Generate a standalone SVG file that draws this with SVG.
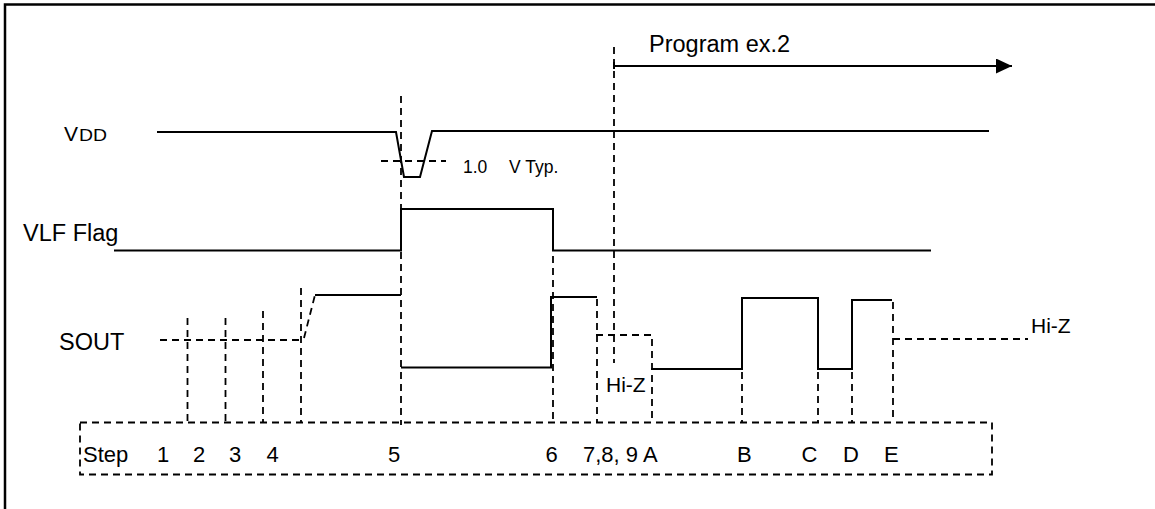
<svg xmlns="http://www.w3.org/2000/svg" width="1155" height="509" viewBox="0 0 1155 509">
<defs>
<style>
.s{fill:none;stroke:#000;stroke-width:2;stroke-linejoin:miter}
.d{fill:none;stroke:#000;stroke-width:1.8;stroke-dasharray:7 5}
.t{font-family:"Liberation Sans",Arial,sans-serif;fill:#000}
</style>
<marker id="ah" viewBox="0 0 16 15" refX="16" refY="7.5" markerWidth="16" markerHeight="15" markerUnits="userSpaceOnUse" orient="auto">
<path d="M0,0 L16,7.5 L0,15 Z" fill="#000"/>
</marker>
</defs>
<rect width="1155" height="509" fill="#fff"/>
<g id="frame"><path d="M5,509 V4.5 H1155" fill="none" stroke="#000" stroke-width="2.5"/></g>

<g id="vdd">
<text class="t" x="64" y="141" font-size="21">V</text>
<text class="t" x="79" y="141" font-size="16" textLength="28" lengthAdjust="spacingAndGlyphs">DD</text>
<path class="s" d="M157,132 H396 L404,177 H420 L432,131 H989"/>
<path class="d" d="M381,161 H446"/>
<text class="t" x="463" y="173" font-size="17.5">1.0</text>
<text class="t" x="509" y="173" font-size="17.5">V Typ.</text>
</g>

<g id="vlf-flag">
<text class="t" x="23" y="241" font-size="23.5">VLF Flag</text>
<path class="s" d="M114,250.5 H401 V209 H553 V250.5 H931"/>
</g>

<g id="sout">
<text class="t" x="59" y="350" font-size="23.5">SOUT</text>
<path class="d" d="M160,340 H302 M304,338 L315,295"/>
<path class="s" d="M315,295 H401"/>
<path class="s" d="M401,367.5 H551 V297 H597"/>
<path class="d" d="M596,335 H652 V422"/>
<path class="s" d="M651,369 H742 V298 H818 V369 H852 V300 H892"/>
<path class="d" d="M893,339 H1028"/>
<text class="t" x="606" y="392" font-size="21">Hi-Z</text>
<text class="t" x="1031" y="333" font-size="21">Hi-Z</text>
</g>

<g id="program">
<text class="t" x="649" y="52" font-size="23.5">Program ex.2</text>
</g>

<g id="step-box">
<rect class="d" x="80" y="422.5" width="912" height="52"/>
<text class="t" x="83" y="462" font-size="22">Step</text>
<text class="t" x="157" y="462" font-size="22">1</text>
<text class="t" x="193" y="462" font-size="22">2</text>
<text class="t" x="229" y="462" font-size="22">3</text>
<text class="t" x="266.5" y="462" font-size="22">4</text>
<text class="t" x="388" y="462" font-size="22">5</text>
<text class="t" x="545.5" y="462" font-size="22">6</text>
<text class="t" x="583" y="462" font-size="22">7,8, 9 A</text>
<text class="t" x="737" y="462" font-size="22">B</text>
<text class="t" x="801.5" y="462" font-size="22">C</text>
<text class="t" x="843" y="462" font-size="22">D</text>
<text class="t" x="884" y="462" font-size="22">E</text>
</g>

<g id="connectors">
<path class="d" d="M187.5,318 V422 M225.5,318 V422 M263,311 V422 M301,288 V422"/>
<path class="d" d="M401,96 V425"/>
<path class="d" d="M553,256 V422"/>
<path class="d" d="M597,299 V422"/>
<path class="d" d="M614,47 V363"/>
<path class="d" d="M742,372 V422 M818,372 V422 M852,372 V422 M893,302 V422"/>
<path class="s" d="M614,62 V69"/>
<path class="s" d="M614,66 H1012" marker-end="url(#ah)"/>
</g>
</svg>
